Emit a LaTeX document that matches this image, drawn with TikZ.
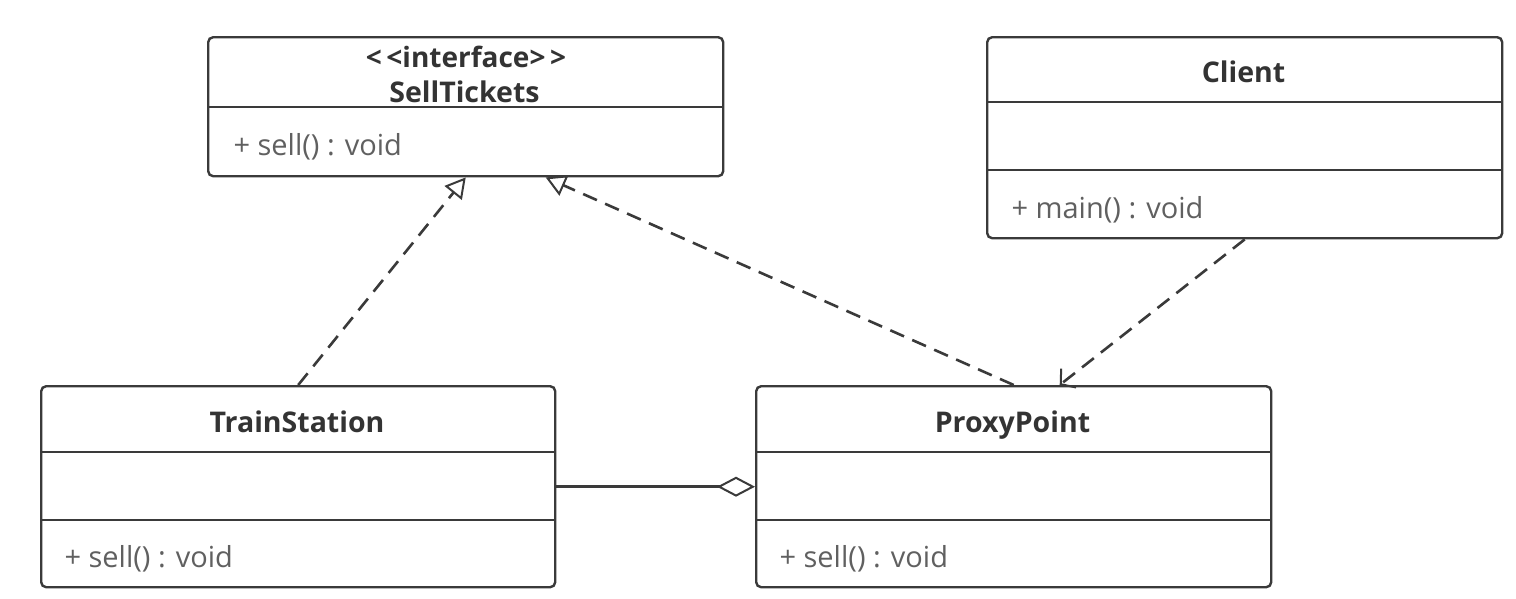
\documentclass[tikz,border=0pt]{standalone}
\usepackage{fontspec}
\setmainfont{Open Sans}
\usetikzlibrary{arrows.meta}
\definecolor{linec}{HTML}{3A3A3A}
\definecolor{titlec}{HTML}{333333}
\definecolor{methc}{HTML}{606060}
\tikzset{
  cls/.style={draw=linec, line width=2.4pt, rounded corners=5pt, fill=white,
              inner sep=0pt, anchor=north west},
  divline/.style={draw=linec, line width=2.4pt},
  title/.style={font=\bfseries\fontsize{28.5}{30}\selectfont, text=titlec, anchor=base},
  stereo/.style={font=\bfseries\fontsize{28}{30}\selectfont, text=titlec, anchor=base},
  meth/.style={font=\fontsize{29}{32}\selectfont, text=methc, anchor=base west},
  realize/.style={draw=linec, line width=2.6pt, dash pattern=on 15pt off 9pt,
                  -{Triangle[open, length=20pt, width=22pt, line width=2pt]}},
  depend/.style={draw=linec, line width=2.6pt, dash pattern=on 15pt off 9pt,
                 -{Straight Barb[length=10pt, width=24pt, line width=2pt]}},
  aggreg/.style={draw=linec, line width=2.6pt,
                 -{Diamond[open, length=38pt, width=20pt, line width=2pt]}}
}
\begin{document}
\begin{tikzpicture}[x=1pt, y=-1pt]
\useasboundingbox (0,0) rectangle (1516,598);
\fill[white] (0,0) rectangle (1516,598);

% interface SellTickets
\node[cls, minimum width=515pt, minimum height=139pt] (sell) at (207,36) {};
\draw[divline] ([yshift=-71pt]sell.north west) -- ([yshift=-71pt]sell.north east);
\node[stereo] (sellst) at (466,67) {{<}\,{<}interface{>}\,{>}};
\node[title] (sellname) at (464.5,102) {SellTickets};
\node[meth] (sellm) at (230,155) {+ sell() : void};

% Client
\node[cls, minimum width=515pt, minimum height=201pt] (client) at (986,36) {};
\draw[divline] ([yshift=-66pt]client.north west) -- ([yshift=-66pt]client.north east);
\draw[divline] ([yshift=-134pt]client.north west) -- ([yshift=-134pt]client.north east);
\node[title] (clientname) at (1243.5,82) {Client};
\node[meth] (clientm) at (1008,218) {+ main() : void};

% TrainStation
\node[cls, minimum width=514pt, minimum height=201pt] (ts) at (40,385) {};
\draw[divline] ([yshift=-67pt]ts.north west) -- ([yshift=-67pt]ts.north east);
\draw[divline] ([yshift=-135pt]ts.north west) -- ([yshift=-135pt]ts.north east);
\node[title] (tsname) at (297,432) {TrainStation};
\node[meth] (tsm) at (61,567) {+ sell() : void};

% ProxyPoint
\node[cls, minimum width=515pt, minimum height=201pt] (pp) at (755,385) {};
\draw[divline] ([yshift=-67pt]pp.north west) -- ([yshift=-67pt]pp.north east);
\draw[divline] ([yshift=-135pt]pp.north west) -- ([yshift=-135pt]pp.north east);
\node[title] (ppname) at (1012.5,432) {ProxyPoint};
\node[meth] (ppm) at (776,567) {+ sell() : void};

% relations
\draw[realize] (ts.north) -- (sell.south);
\draw[realize] (pp.north) -- ([xshift=80pt]sell.south);
\draw[depend] (client.south) -- ([xshift=46pt]pp.north);
\draw[aggreg] (ts.east) -- (pp.west);
\end{tikzpicture}
\end{document}
